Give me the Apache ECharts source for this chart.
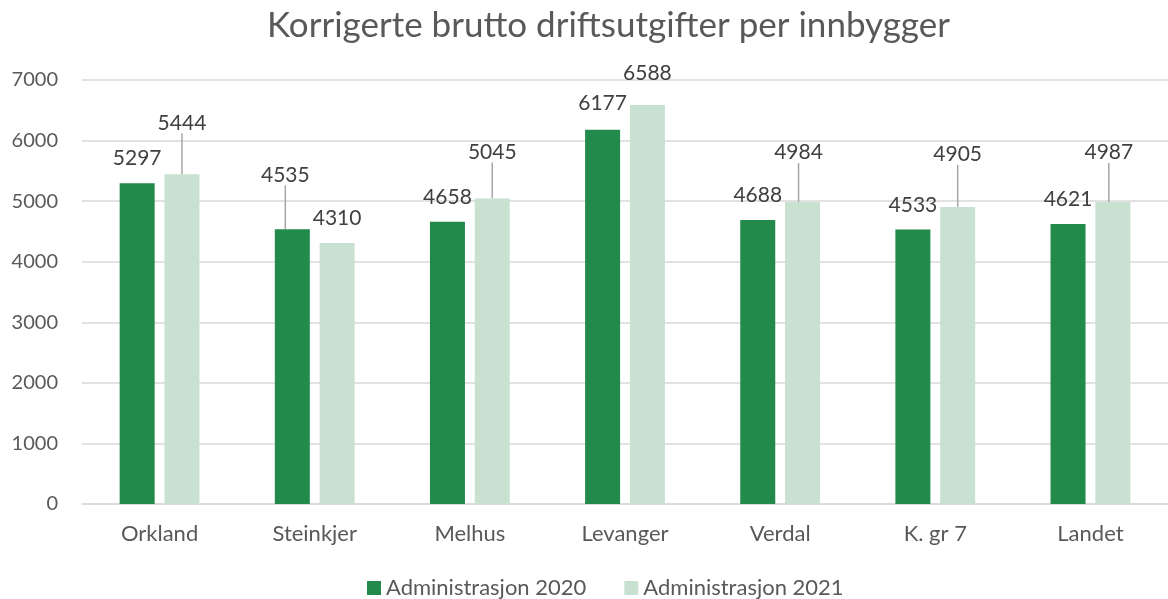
<!DOCTYPE html>
<html>
<head>
<meta charset="utf-8">
<script src="https://cdn.jsdelivr.net/npm/echarts@6/dist/echarts.min.js"></script>
<style>
  html, body { margin: 0; padding: 0; background: #fff; }
  #chart { width: 1168px; height: 599px; }
</style>
</head>
<body>
<div id="chart"></div>
<script>
var categories = ['Orkland', 'Steinkjer', 'Melhus', 'Levanger', 'Verdal', 'K. gr 7', 'Landet'];
var values2020 = [5297, 4535, 4658, 6177, 4688, 4533, 4621];
var values2021 = [5444, 4310, 5045, 6588, 4984, 4905, 4987];
var yTicks = [0, 1000, 2000, 3000, 4000, 5000, 6000, 7000];

// label nudges; the ones with a leader line were moved in Excel
var moved2020 = { 1: [-7, -30, true], 3: [0, -2, false] };
var moved2021 = { 0: [0, -27, true], 2: [0, -22, true], 3: [0, -7, false], 4: [-4, -25, true], 5: [0, -28, true], 6: [-4, -25, true] };

var font = 'Lato, "Open Sans", sans-serif';

function layoutFor(moved) {
    return function (params) {
        var m = moved[params.dataIndex];
        if (!m) return {};
        return { dx: m[0], dy: m[1] };
    };
}

function barData(values, moved) {
    return values.map(function (v, i) {
        var m = moved[i];
        return { value: v, labelLine: { show: !!(m && m[2]) } };
    });
}

var chart = echarts.init(document.getElementById('chart'));
var option = {
    animation: false,
    title: {
        text: 'Korrigerte brutto driftsutgifter per innbygger',
        left: 262,
        top: 3,
        textStyle: { fontFamily: font, fontSize: 35, fontWeight: 'normal', color: '#595959' }
    },
    legend: {
        top: 572,
        left: 362,
        itemWidth: 14,
        itemHeight: 14,
        itemGap: 38,
        icon: 'rect',
        textStyle: { fontFamily: font, fontSize: 22, color: '#595959' },
        data: ['Administrasjon 2020', 'Administrasjon 2021']
    },
    grid: { left: 82, right: 0, top: 80, bottom: 95 },
    xAxis: {
        type: 'category',
        data: categories,
        axisLine: { lineStyle: { color: '#d9d9d9', width: 1.5 } },
        axisTick: { show: false },
        axisLabel: { fontFamily: font, fontSize: 22, color: '#595959', margin: 19 }
    },
    yAxis: {
        type: 'value',
        min: yTicks[0],
        max: yTicks[yTicks.length - 1],
        interval: 1000,
        axisLabel: {
            fontFamily: font, fontSize: 20, color: '#595959', margin: 24,
            formatter: function (v) { return String(v); }
        },
        splitLine: { lineStyle: { color: '#d9d9d9', width: 1.5 } }
    },
    series: [{
        name: 'Administrasjon 2020',
        type: 'bar',
        data: barData(values2020, moved2020),
        barWidth: 35,
        barGap: '28%',
        itemStyle: { color: '#228a4a' },
        label: {
            show: true, position: 'top', distance: 14,
            fontFamily: font, fontSize: 21, color: '#404040'
        },
        labelLayout: layoutFor(moved2020),
        labelLine: { lineStyle: { color: '#a6a6a6', width: 1.5 } }
    }, {
        name: 'Administrasjon 2021',
        type: 'bar',
        data: barData(values2021, moved2021),
        barWidth: 35,
        itemStyle: { color: '#c9e1d1' },
        label: {
            show: true, position: 'top', distance: 14,
            fontFamily: font, fontSize: 21, color: '#404040'
        },
        labelLayout: layoutFor(moved2021),
        labelLine: { lineStyle: { color: '#a6a6a6', width: 1.5 } }
    }]
};
chart.setOption(option);
</script>
</body>
</html>
